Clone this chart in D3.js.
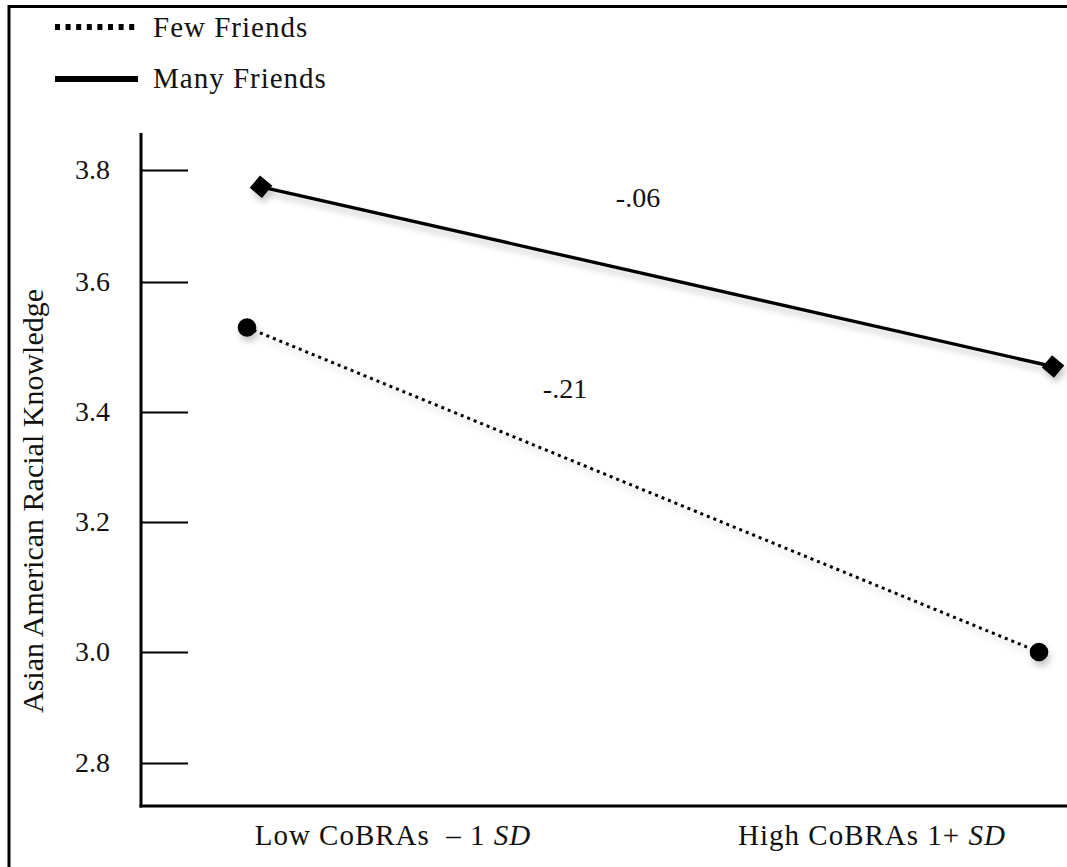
<!DOCTYPE html>
<html>
<head>
<meta charset="utf-8">
<script src="https://cdn.jsdelivr.net/npm/d3@7"></script>
<style>
  html, body { margin: 0; padding: 0; background: #fff; }
  svg { display: block; }
  svg text { font-family: "Liberation Serif", Tinos, "Times New Roman", "DejaVu Serif", serif !important; fill: #111; }
</style>
</head>
<body>
<svg id="chart" width="1067" height="867"></svg>
<script>
// Conditions on the x axis
const categories = ["Low", "High"];
const categoryLabels = [
  { text: "Low CoBRAs\u00a0 \u2013 1 ", italic: "SD" },
  { text: "High CoBRAs 1+ ", italic: "SD" }
];
// Mean Asian American racial knowledge per group
const fewFriends = [3.53, 3.00];
const manyFriends = [3.77, 3.47];
// Simple slopes
const slopeLabels = ["-.21", "-.06"];
const yTicks = [2.8, 3.0, 3.2, 3.4, 3.6, 3.8];
const yTitle = "Asian American Racial Knowledge";
const legendLabels = ["Few Friends", "Many Friends"];

const W = 1067, H = 867;
const axisX = 141, axisTop = 133, axisBottom = 806;
const serif = "'Liberation Serif', Tinos, 'Times New Roman', 'DejaVu Serif', serif";

const svg = d3.select("#chart");

// soft drop shadow under the lines and markers
const defs = svg.append("defs");
const f = defs.append("filter").attr("id", "shadow")
  .attr("x", "-20%").attr("y", "-20%").attr("width", "140%").attr("height", "160%");
f.append("feDropShadow").attr("dx", 2).attr("dy", 5).attr("stdDeviation", 3)
  .attr("flood-color", "#000").attr("flood-opacity", 0.22);

// outer frame (top and left edges)
svg.append("line").attr("x1", 9).attr("x2", W).attr("y1", 6.5).attr("y2", 6.5)
  .attr("stroke", "#000").attr("stroke-width", 3);
svg.append("line").attr("x1", 9).attr("x2", 9).attr("y1", 5).attr("y2", H)
  .attr("stroke", "#000").attr("stroke-width", 3);

// y scale keeps the uneven tick spacing of the axis
const y = d3.scaleLinear().domain(yTicks).range([763, 652, 522, 412, 282, 170]);
const x = d3.scalePoint().domain(categories).range([254, 1046]);
const xLabel = d3.scalePoint().domain(categories).range([393, 872]);

// y axis ticks and labels
const yAxis = d3.axisLeft(y).tickValues(yTicks).tickFormat(d3.format(".1f"))
  .tickSizeInner(-47).tickSizeOuter(0).tickPadding(31);
const gy = svg.append("g").attr("transform", `translate(${axisX},0)`).call(yAxis)
  .attr("font-family", serif);
gy.select(".domain").remove();
gy.selectAll(".tick line").attr("stroke", "#000").attr("stroke-width", 2);
gy.selectAll(".tick text").attr("font-size", 28).attr("fill", "#111");

// axis lines
svg.append("line").attr("x1", axisX).attr("x2", axisX).attr("y1", axisTop).attr("y2", axisBottom + 1.5)
  .attr("stroke", "#000").attr("stroke-width", 3);
svg.append("line").attr("x1", axisX - 1.5).attr("x2", W).attr("y1", axisBottom).attr("y2", axisBottom)
  .attr("stroke", "#000").attr("stroke-width", 3);

// y axis title
svg.append("text")
  .attr("transform", `translate(43,501) rotate(-90)`)
  .attr("text-anchor", "middle").attr("font-size", 30).attr("fill", "#222")
  .attr("font-family", serif)
  .text(yTitle);

// x category labels
const xl = svg.selectAll(".xlab").data(categories).enter().append("text")
  .attr("class", "xlab")
  .attr("x", d => xLabel(d)).attr("y", 845)
  .attr("text-anchor", "middle").attr("font-size", 29)
  .attr("letter-spacing", 1)
  .attr("font-family", serif)
  .style("white-space", "pre");
xl.append("tspan").text((d, i) => categoryLabels[i].text);
xl.append("tspan").attr("font-style", "italic").text((d, i) => categoryLabels[i].italic);

// series
const series = [
  { name: legendLabels[0], values: fewFriends, dx: -7, dash: "3 4", width: 3, marker: "circle" },
  { name: legendLabels[1], values: manyFriends, dx: 7, dash: null, width: 3.4, marker: "diamond" }
];

const line = d3.line()
  .x(d => x(d.cat) + d.dx)
  .y(d => y(d.v));

series.forEach(s => {
  const pts = categories.map((c, i) => ({ cat: c, v: s.values[i], dx: s.dx }));
  const g = svg.append("g").attr("filter", "url(#shadow)");
  g.append("path").datum(pts).attr("d", line)
    .attr("fill", "none").attr("stroke", "#000")
    .attr("stroke-width", s.width)
    .attr("stroke-dasharray", s.dash);
  const sym = s.marker === "circle"
    ? d3.symbol().type(d3.symbolCircle).size(Math.PI * 9.3 * 9.3)
    : d3.symbol().type(d3.symbolSquare).size(16 * 16);
  g.selectAll("path.m").data(pts).enter().append("path").attr("class", "m")
    .attr("d", sym)
    .attr("transform", d => `translate(${x(d.cat) + d.dx},${y(d.v)})` +
      (s.marker === "diamond" ? " rotate(40)" : ""))
    .attr("fill", "#000");
});

// slope annotations
svg.append("text").attr("x", 565).attr("y", 398).attr("text-anchor", "middle")
  .attr("font-size", 28).attr("font-family", serif).text(slopeLabels[0]);
svg.append("text").attr("x", 638).attr("y", 207).attr("text-anchor", "middle")
  .attr("font-size", 28).attr("font-family", serif).text(slopeLabels[1]);

// legend
const legend = svg.append("g").attr("font-family", serif).attr("letter-spacing", 1);
legend.append("line").attr("x1", 55).attr("x2", 138).attr("y1", 27).attr("y2", 27)
  .attr("stroke", "#000").attr("stroke-width", 6).attr("stroke-dasharray", "5 5.6");
legend.append("text").attr("x", 153).attr("y", 37).attr("font-size", 29).text(legendLabels[0]);
legend.append("line").attr("x1", 55).attr("x2", 138).attr("y1", 79).attr("y2", 79)
  .attr("stroke", "#000").attr("stroke-width", 6);
legend.append("text").attr("x", 153).attr("y", 88).attr("font-size", 29).text(legendLabels[1]);
</script>
</body>
</html>
